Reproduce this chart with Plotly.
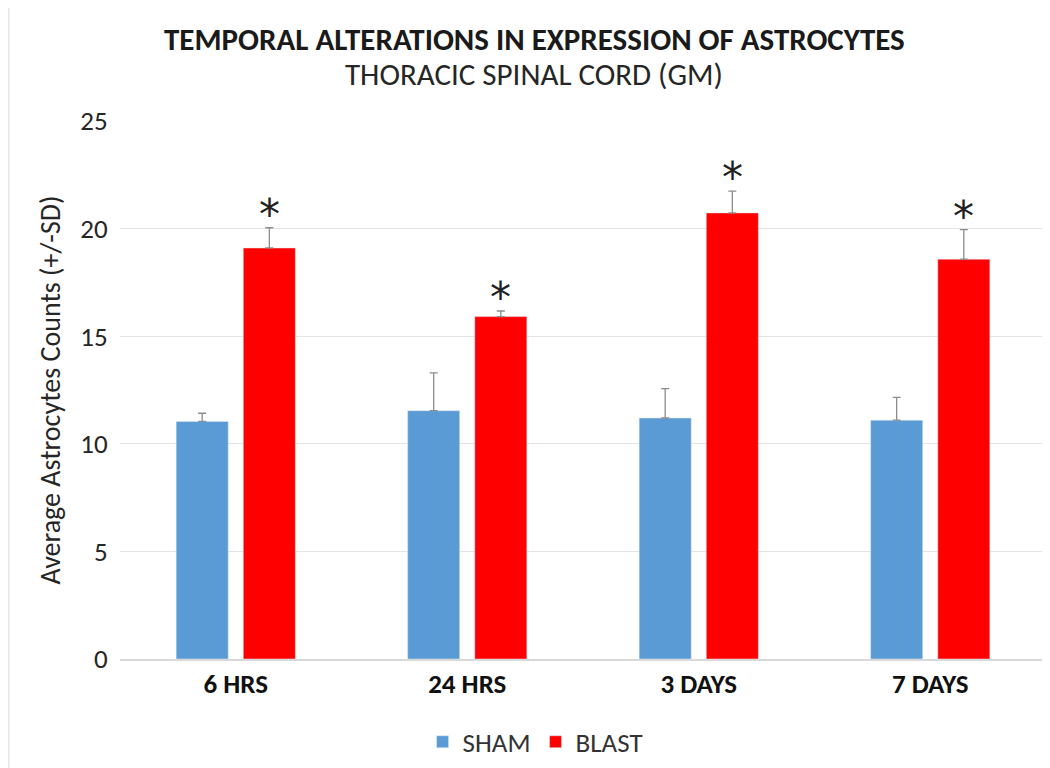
import plotly.graph_objects as go

categories = ["6 HRS", "24 HRS", "3 DAYS", "7 DAYS"]
sham_mean = [11.04, 11.54, 11.20, 11.10]
sham_sd = [0.38, 1.76, 1.36, 1.06]
blast_mean = [19.10, 15.91, 20.73, 18.58]
blast_sd = [0.94, 0.26, 1.01, 1.37]
y_ticks = [0, 5, 10, 15, 20, 25]

FONT = "Carlito, 'Open Sans', sans-serif"
SHAM_COLOR = "#5B9BD5"
BLAST_COLOR = "#FF0000"
ERR_COLOR = "#8C8C8C"

fig = go.Figure()
fig.add_trace(go.Bar(
    name="SHAM", x=categories, y=sham_mean, marker_color=SHAM_COLOR,
    error_y=dict(type="data", array=sham_sd, symmetric=False, arrayminus=[0]*4,
                 color=ERR_COLOR, thickness=1.3, width=4),
))
fig.add_trace(go.Bar(
    name="BLAST", x=categories, y=blast_mean, marker_color=BLAST_COLOR,
    error_y=dict(type="data", array=blast_sd, symmetric=False, arrayminus=[0]*4,
                 color=ERR_COLOR, thickness=1.3, width=4),
))

for c, m, s in zip(categories, blast_mean, blast_sd):
    fig.add_annotation(x=c, y=m + s, text="*", showarrow=False, xref="x", yref="y",
                       xshift=33.5, yshift=-13, yanchor="bottom",
                       font=dict(family="DejaVu Sans", size=42, color="#222222"))

# title and subtitle
fig.add_annotation(text="<b>TEMPORAL ALTERATIONS IN EXPRESSION OF ASTROCYTES</b>",
                   xref="paper", yref="paper", x=0.4476, y=1.152, xanchor="center", yanchor="middle",
                   showarrow=False, font=dict(family=FONT, size=31, color="#1a1a1a"))
fig.add_annotation(text="THORACIC SPINAL CORD (GM)",
                   xref="paper", yref="paper", x=0.4476, y=1.087, xanchor="center", yanchor="middle",
                   showarrow=False, font=dict(family=FONT, size=31, color="#262626"))

fig.update_layout(
    width=1050, height=768,
    paper_bgcolor="white", plot_bgcolor="white",
    margin=dict(l=112, r=12, t=113, b=117, autoexpand=False),
    barmode="group", bargap=0.42, bargroupgap=0.224,
    font=dict(family=FONT, color="#262626"),
    showlegend=True,
    legend=dict(orientation="h", x=0.502, xanchor="center", xref="container",
                y=0.044, yanchor="middle", yref="container",
                font=dict(family=FONT, size=27, color="#333333"),
                itemwidth=30, traceorder="normal"),
)
fig.update_xaxes(
    showline=True, linecolor="#D9D9D9", linewidth=1.5, ticks="",
    tickfont=dict(family=FONT, size=27, color="#111111", weight="bold"),
    showgrid=False, automargin=False,
)
fig.update_yaxes(
    range=[0, 25], tickvals=y_ticks, ticktext=[str(v) for v in y_ticks],
    showgrid=True, gridcolor="#E3E3E3", gridwidth=1.3, zeroline=False,
    tickfont=dict(family=FONT, size=27, color="#262626"),
    ticks="outside", ticklen=6, tickcolor="rgba(0,0,0,0)",
    automargin=False,
    title=dict(text="Average Astrocytes Counts (+/-SD)", font=dict(family=FONT, size=28, color="#262626"),
               standoff=11),
)
fig.add_shape(type="rect", xref="paper", yref="paper", x0=-0.121, x1=1.02, y0=-0.25, y1=1.214,
              line=dict(color="#E6E6E6", width=3), layer="below")

fig.write_html("out.html")
